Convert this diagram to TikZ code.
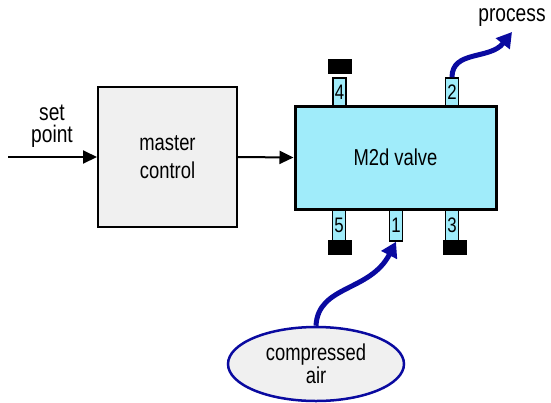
\documentclass[tikz,border=0pt]{standalone}
\usepackage{fontspec}
\setmainfont[FakeStretch=0.8]{Liberation Sans}
\usetikzlibrary{shapes.geometric,arrows.meta}
\definecolor{valvecyan}{RGB}{160,236,250}
\definecolor{boxgray}{RGB}{240,240,240}
\definecolor{flowblue}{RGB}{10,10,160}
\begin{document}
\begin{tikzpicture}[x=1pt,y=-1pt,
  ctrlbox/.style={draw=black, line width=2pt, fill=boxgray, inner sep=0pt,
    minimum width=139pt, minimum height=140pt, align=center,
    font=\fontsize{23pt}{28pt}\selectfont},
  valvebox/.style={draw=black, line width=3pt, fill=valvecyan, inner sep=0pt,
    minimum width=201pt, minimum height=103pt,
    font=\fontsize{23pt}{25pt}\selectfont},
  porttop/.style={draw=black, line width=1.5pt, fill=valvecyan, inner sep=0pt,
    minimum width=13pt, minimum height=28pt,
    font=\fontsize{21pt}{21pt}\selectfont},
  portbot/.style={porttop, minimum height=32pt},
  capblk/.style={fill=black, inner sep=0pt, minimum width=24pt, minimum height=15pt},
  airell/.style={ellipse, draw=flowblue, line width=2.5pt, fill=boxgray, inner sep=0pt,
    minimum width=176pt, minimum height=74pt, align=center,
    font=\fontsize{23pt}{23pt}\selectfont},
  lbl/.style={align=center, inner sep=0pt, font=\fontsize{24pt}{22pt}\selectfont},
  sig/.style={draw=black, line width=2pt, -{Triangle[length=14pt,width=13pt]}},
  flow/.style={draw=flowblue, line width=5pt, -{Triangle[length=15pt,width=17pt]}}
]
\useasboundingbox (0,0) rectangle (551,402);

% ports
\node[porttop] (p4) at (339.5,92) {4};
\node[porttop] (p2) at (452,92) {2};
\node[portbot] (p5) at (339,225) {5};
\node[portbot] (p1) at (396,225) {1};
\node[portbot] (p3) at (452,225) {3};
% caps
\node[capblk] (c4) at (340,66.5) {};
\node[capblk] (c5) at (340,247) {};
\node[capblk] (c3) at (455,247) {};

% main boxes
\node[ctrlbox] (master) at (167.5,157) {master\\control};
\node[valvebox] (valve) at (395.5,157.5) {M2d valve};

% air supply
\node[airell] (air) at (316,364) {compressed\\air};

% labels
\node[lbl] (sp) at (52,126) {set\\point};
\node[lbl] (proc) at (512,18) {process};

\coordinate (in) at (8,157);
\coordinate (ptip) at (512,32);

% connectors
\draw[sig] (in) -- (master.west);
\draw[sig] (master.east) -- (valve.west);
\draw[flow] (air.north) .. controls (318,285) and (370,292) .. (p1.south);
\draw[flow] (p2.north) .. controls (452,50) and (490,60) .. (ptip);
\end{tikzpicture}
\end{document}
